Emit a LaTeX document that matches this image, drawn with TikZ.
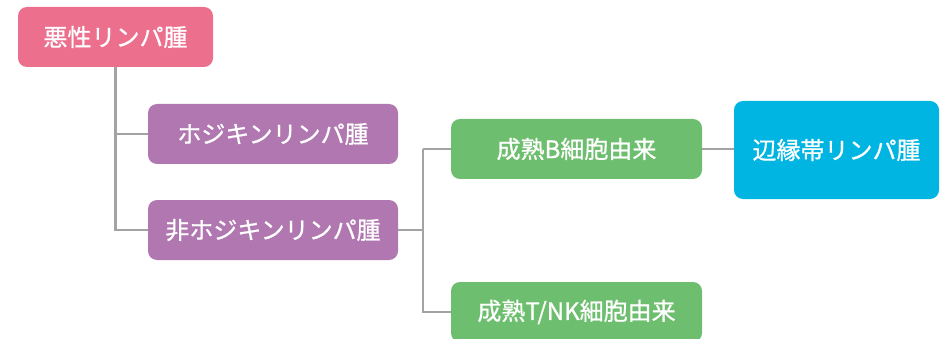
\documentclass[tikz,border=0pt]{standalone}
\usepackage{fontspec}
\newfontfamily\jpfont[FakeBold=0.8]{Noto Sans CJK JP}
\definecolor{cpink}{HTML}{EC6F8E}
\definecolor{cpurple}{HTML}{B077B0}
\definecolor{cgreen}{HTML}{6DBE6E}
\definecolor{cblue}{HTML}{00B5E2}
\definecolor{cline}{HTML}{A3A3A3}
\begin{document}
\begin{tikzpicture}[x=1pt,y=-1pt,
  box/.style={rounded corners=9pt, text=white, font=\jpfont\fontsize{24}{28}\selectfont, inner sep=0pt},
  conn/.style={draw=cline, line width=2.7pt}]
\useasboundingbox (0,0) rectangle (944,339);
\clip (0,0) rectangle (944,339);
\node[box, fill=cpink, minimum width=195pt, minimum height=60pt] (root) at (115.5,37) {悪性リンパ腫};
\node[box, fill=cpurple, minimum width=250pt, minimum height=60pt] (hod) at (273,134) {ホジキンリンパ腫};
\node[box, fill=cpurple, minimum width=250pt, minimum height=60pt] (nhod) at (273,230) {非ホジキンリンパ腫};
\node[box, fill=cgreen, minimum width=251pt, minimum height=60pt] (bcell) at (576.5,149) {成熟B細胞由来};
\node[box, fill=cgreen, minimum width=251pt, minimum height=60pt] (tcell) at (576.5,312) {成熟T/NK細胞由来};
\node[box, fill=cblue, minimum width=205pt, minimum height=98pt] (mzl) at (836.5,150) {辺縁帯リンパ腫};
\coordinate (split) at (423,230);
\draw[conn] (root.south) -- (root.south |- nhod.west) -- (nhod.west);
\draw[conn] (root.south |- hod.west) -- (hod.west);
\draw[conn] (nhod.east) -- (split);
\draw[conn] (split |- bcell.west) |- (tcell.west);
\draw[conn] (split |- bcell.west) -- (bcell.west);
\draw[conn] (bcell.east) -- (bcell.east -| mzl.west);
\end{tikzpicture}
\end{document}
